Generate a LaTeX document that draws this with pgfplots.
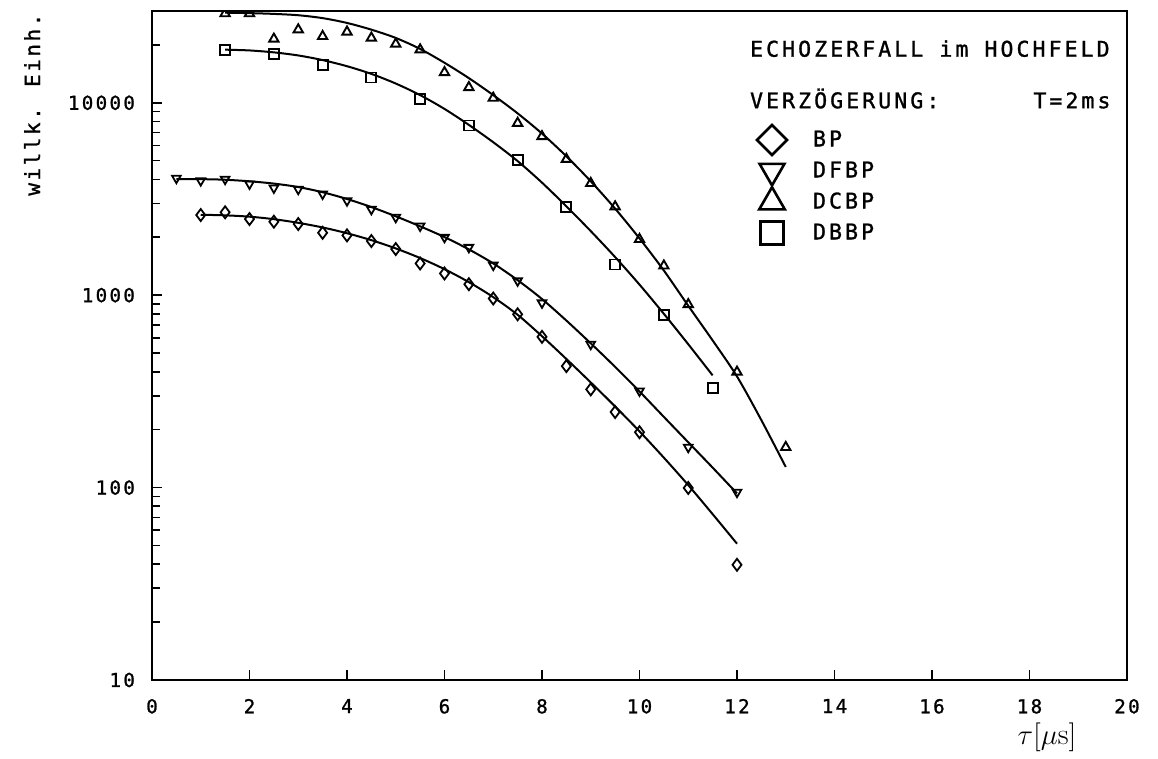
\documentclass[border=0pt]{standalone}
\usepackage{fontspec}
\usepackage{pgfplots}
\pgfplotsset{compat=1.18}
\newfontfamily\pf{DejaVu Sans Mono}[LetterSpace=12, FakeBold=1.2]
\newfontfamily\pfw{DejaVu Sans Mono}[LetterSpace=14, FakeBold=1.2]
\newcommand\tickfont{\pf\fontsize{9.6}{10}\selectfont}
\newcommand\annfont{\pfw\fontsize{10.8}{12}\selectfont}
\newcommand\labfont{\pf\fontsize{10.5}{12}\selectfont}

\begin{document}
\begin{tikzpicture}
\begin{axis}[
  scale only axis, width=487.5pt, height=334.5pt,
  xmin=0, xmax=20, ymin=10, ymax=30000, ymode=log,
  xtick={0,2,4,6,8,10,12,14,16,18,20},
  ytick={10,100,1000,10000}, yticklabels={10,100,1000,10000},
  minor ytick={20,30,40,50,60,70,80,90,200,300,400,500,600,700,800,900,
               2000,3000,4000,5000,6000,7000,8000,9000,20000,30000},
  xtick pos=left, ytick pos=left, tick align=inside,
  major tick length=5pt, minor tick length=4pt,
  every tick/.append style={black, line width=0.8pt},
  axis line style={line width=1.2pt},
  /pgf/number format/assume math mode=true,
  tick label style={font=\tickfont},
  xticklabel style={yshift=-6pt},
  yticklabel style={xshift=-5pt},
  clip marker paths=true,
  ylabel={willk. Einh.},
  ylabel style={font=\labfont, at={(rel axis cs:-0.123,0.86)}, anchor=center},
  xlabel={$\tau[\mu\mathrm{s}]$},
  xlabel style={font=\fontsize{15}{15}\selectfont, at={(rel axis cs:0.918,-0.086)}, anchor=center},
  legend style={draw=none, fill=none, inner sep=0pt, outer sep=0pt,
    at={(rel axis cs:0.6195,0.8303)}, anchor=north west,
    font=\annfont, row sep=0pt, column sep=12.5pt,
    nodes={inner sep=0pt}},
  legend cell align=left,
  legend image code/.code={%
    \path[draw=none, fill=none] (-8pt,-7.75pt) rectangle (8pt,7.75pt);
    \draw[#1] plot coordinates {(0pt,0pt)};},
]

% fitted decay curves
\addplot[black, line width=1pt, smooth, forget plot] coordinates {
 (1,2618) (1.5,2600) (2,2559) (2.5,2483) (3,2377) (3.5,2249) (4,2099)
 (4.5,1932) (5,1750) (5.5,1560) (6,1365) (6.5,1169) (7,977) (7.5,791)
 (8,612) (8.5,466) (9,352) (9.5,264) (10,196) (10.5,143) (11,103)
 (11.5,72.8) (12,51.1)};
\addplot[black, line width=1pt, smooth, forget plot] coordinates {
 (0.5,4009) (1,4009) (1.5,3981) (2,3908) (2.5,3802) (3,3648) (3.5,3428)
 (4,3162) (4.5,2871) (5,2570) (5.5,2280) (6,2004) (6.5,1730) (7,1462)
 (7.5,1197) (8,955) (8.5,738) (9,562) (9.5,424) (10,316) (10.5,233)
 (11,172) (11.5,127) (12,93.3)};
\addplot[black, line width=1pt, smooth, forget plot] coordinates {
 (1.5,29380) (2,29240) (2.5,28970) (3,28510) (3.5,27540) (4,26000)
 (4.5,23990) (5,21730) (5.5,19050) (6,16140) (6.5,13430) (7,10960)
 (7.5,8810) (8,6918) (8.5,5272) (9,3908) (9.5,2818) (10,1972) (10.5,1343)
 (11,881) (11.5,582) (12,378) (12.5,224) (13,128)};
\addplot[black, line width=1pt, smooth, forget plot] coordinates {
 (1.5,18880) (2,18710) (2.5,18280) (3,17620) (3.5,16670) (4,15490)
 (4.5,14130) (5,12590) (5.5,10960) (6,9290) (6.5,7674) (7,6237)
 (7.5,4977) (8,3846) (8.5,2897) (9,2153) (9.5,1578) (10,1135)
 (10.5,800) (11,556) (11.5,383)};

% measured echo amplitudes
\addplot[only marks, mark=diamond, mark size=3pt,
  mark options={black, line width=0.9pt}, forget plot] coordinates {
 (1,2610) (1.5,2697) (2,2488) (2.5,2409) (3,2344) (3.5,2110) (4,2046)
 (4.5,1911) (5,1737) (5.5,1462) (6,1297) (6.5,1140) (7,961) (7.5,796)
 (8,607) (8.5,428) (9,324) (9.5,247) (10,194) (11,99.6) (12,39.7)};
\addplot[only marks, mark=triangle, mark size=2.5pt,
  mark options={black, line width=0.9pt, rotate=180}, forget plot] coordinates {
 (0.5,4055) (1,3938) (1.5,4006) (2,3786) (2.5,3608) (3,3553) (3.5,3357)
 (4,3097) (4.5,2793) (5,2539) (5.5,2288) (6,1998) (6.5,1772) (7,1433)
 (7.5,1187) (8,912) (9,556) (10,318) (11,162) (12,94.6)};
\addplot[only marks, mark=triangle, mark size=2.7pt,
  mark options={black, line width=0.95pt}, forget plot] coordinates {
 (1.5,29100) (2,29100) (2.5,21460) (3,23990) (3.5,22150) (4,23350)
 (4.5,21730) (5,20220) (5.5,18880) (6,14380) (6.5,12020) (7,10580)
 (7.5,7840) (8,6680) (8.5,5090) (9,3816) (9.5,2884) (10,1951)
 (10.5,1421) (11,895) (12,399) (13,162)};
\addplot[only marks, mark=square, mark size=2.5pt,
  mark options={black, line width=0.9pt}, forget plot] coordinates {
 (1.5,18880) (2.5,17990) (3.5,15770) (4.5,13540) (5.5,10490) (6.5,7620)
 (7.5,5050) (8.5,2864) (9.5,1445) (10.5,787) (11.5,330)};

% key
\addlegendimage{only marks, mark=diamond, mark size=7.5pt,
  mark options={black, line width=1.3pt, xscale=1.333}}
\addlegendentry{BP}
\addlegendimage{only marks, mark=triangle, mark size=7.2pt,
  mark options={black, line width=1.3pt, rotate=180}}
\addlegendentry{DFBP}
\addlegendimage{only marks, mark=triangle, mark size=7.4pt,
  mark options={black, line width=1.3pt}}
\addlegendentry{DCBP}
\addlegendimage{only marks, mark=square, mark size=5.75pt,
  mark options={black, line width=1.3pt}}
\addlegendentry{DBBP}

\node[anchor=base west, font=\annfont, inner sep=0pt]
  at (rel axis cs:0.613,0.9317) {ECHOZERFALL im HOCHFELD};
\node[anchor=base west, font=\annfont, inner sep=0pt]
  at (rel axis cs:0.613,0.8546) {VERZÖGERUNG:};
\node[anchor=base west, font=\annfont, inner sep=0pt]
  at (rel axis cs:0.9036,0.8546) {T=2ms};
\end{axis}
\path (current axis.south west) ++(-76pt,-37pt) rectangle ++(579pt,377pt);
\end{tikzpicture}
\end{document}
